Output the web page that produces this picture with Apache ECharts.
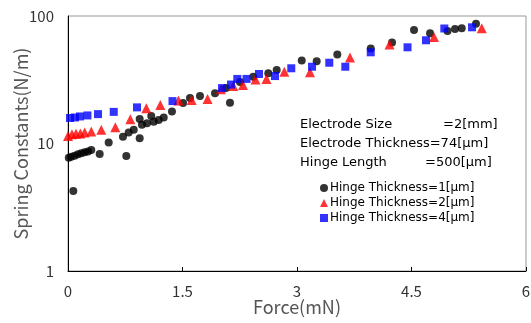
<!DOCTYPE html>
<html><head><meta charset="utf-8">
<script src="https://cdn.jsdelivr.net/npm/echarts@6/dist/echarts.min.js"></script>
<style>html,body{margin:0;padding:0;background:#fff}#c{width:531px;height:323px}</style>
</head><body><div id="c"></div>
<script>
var xTicks = ['0', '1.5', '3', '4.5', '6'];
var yTicks = ['1', '10', '100'];
var seriesNames = ['Hinge Thickness=1[μm]', 'Hinge Thickness=2[μm]', 'Hinge Thickness=4[μm]'];
var black1um = [
  [0.01,7.74],[0.043,7.88],[0.088,8.02],[0.131,8.23],[0.174,8.38],[0.219,8.53],[0.262,8.65],[0.305,8.89],
  [0.415,8.27],[0.533,10.2],[0.72,11.3],[0.764,7.98],[0.795,12.2],[0.861,12.8],[0.939,15.6],[0.939,11.0],
  [0.969,14.0],[1.035,14.4],[1.091,16.4],[1.123,14.8],[1.188,15.3],[1.254,16.0],[1.362,17.8],[0.07,4.24],
  [1.507,20.8],[1.598,22.7],[1.729,23.6],[1.926,24.8],[2.122,20.9],[2.07,27.2],[2.253,30.4],[2.428,33.4],
  [2.624,35.5],[2.734,37.7],[3.062,44.8],[3.258,44.1],[3.528,49.9],[3.966,55.6],[4.245,62.0],[4.533,77.6],
  [4.743,73.1],[4.972,76.3],[5.07,79.2],[5.158,80.0],[5.345,87.1]
];
var red2um = [
  [0.0,11.45],[0.052,11.8],[0.105,11.9],[0.161,12.0],[0.219,12.2],[0.305,12.4],[0.436,12.8],[0.62,13.4],
  [0.816,15.5],[1.026,18.9],[1.209,20.0],[1.448,21.7],[1.62,21.9],[1.828,22.3],[2.004,26.6],[2.166,28.2],
  [2.293,28.8],[2.456,31.8],[2.6,32.1],[2.834,36.6],[3.17,36.2],[3.694,47.3],[4.212,59.8],[4.795,68.4],[5.42,80.1]
];
var blue4um = [
  [0.026,15.85],[0.092,16.0],[0.157,16.3],[0.255,16.6],[0.393,17.0],[0.599,17.7],[0.904,19.2],[1.369,21.5],
  [2.018,27.2],[2.135,29.0],[2.218,32.1],[2.339,32.1],[2.502,35.1],[2.712,33.8],[2.925,38.9],[3.197,40.0],
  [3.423,43.0],[3.633,40.0],[3.966,51.9],[4.448,56.8],[4.69,64.5],[4.93,79.8],[5.293,81.5]
];
var infoLines = [['Electrode Size', '=2[mm]'], ['Electrode Thickness=74[μm]', ''], ['Hinge Length', '=500[μm]']];

var FONT = '"Noto Sans CJK JP", "Noto Sans", sans-serif';
var TFONT = '"DejaVu Sans", sans-serif';
var chart = echarts.init(document.getElementById('c'));
chart.setOption({
  animation: false,
  backgroundColor: '#fff',
  grid: {left: 68, top: 16, right: 5, bottom: 52, show: true, borderColor: '#999', borderWidth: 1,
    containLabel: false, outerBoundsMode: 'none'},
  xAxis: {
    type: 'value', min: 0, max: 6, interval: 1.5,
    axisLine: {show: true, lineStyle: {color: '#000', width: 1}},
    axisTick: {show: true, inside: true, length: 4, lineStyle: {color: '#000'}},
    splitLine: {show: false},
    axisLabel: {margin: 13, fontSize: 15, color: '#333', fontFamily: FONT,
      formatter: function (v) { return xTicks[Math.round(v / 1.5)]; }},
    name: 'Force(mN)', nameLocation: 'middle', nameGap: 27, nameMoveOverlap: false,
    nameTextStyle: {fontSize: 18, color: '#555', fontFamily: FONT}
  },
  yAxis: {
    type: 'log', min: 1, max: 100, logBase: 10,
    axisLine: {show: true, lineStyle: {color: '#000', width: 1}},
    axisTick: {show: false},
    splitLine: {show: false},
    axisLabel: {margin: 14, fontSize: 15, color: '#333', fontFamily: FONT,
      formatter: function (v) { return yTicks[Math.round(Math.log10(v))]; }},
    name: 'Spring Constants(N/m)', nameLocation: 'middle', nameGap: 38, nameMoveOverlap: false,
    nameTextStyle: {fontSize: 18, color: '#555', fontFamily: FONT}
  },
  legend: {
    orient: 'vertical', left: 315, top: 177, itemGap: 3, itemWidth: 8, itemHeight: 8,
    textStyle: {fontSize: 12, color: '#000', fontFamily: TFONT, padding: [0, 0, 0, -3]},
    data: [
      {name: seriesNames[0], icon: 'circle'},
      {name: seriesNames[1], icon: 'triangle'},
      {name: seriesNames[2], icon: 'rect'}
    ]
  },
  graphic: [
    {type: 'text', left: 300, top: 118, style: {text: infoLines[0][0], font: '13px ' + TFONT, fill: '#000'}},
    {type: 'text', left: 443, top: 118, style: {text: infoLines[0][1], font: '13px ' + TFONT, fill: '#000'}},
    {type: 'text', left: 300, top: 137, style: {text: infoLines[1][0], font: '13px ' + TFONT, fill: '#000'}},
    {type: 'text', left: 300, top: 156, style: {text: infoLines[2][0], font: '13px ' + TFONT, fill: '#000'}},
    {type: 'text', left: 425, top: 156, style: {text: infoLines[2][1], font: '13px ' + TFONT, fill: '#000'}}
  ],
  series: [
    {name: seriesNames[0], type: 'scatter', symbol: 'circle', symbolSize: 8, itemStyle: {color: '#000'}, data: black1um},
    {name: seriesNames[1], type: 'scatter', symbol: 'triangle', symbolSize: 10, itemStyle: {color: '#f00'}, data: red2um},
    {name: seriesNames[2], type: 'scatter', symbol: 'rect', symbolSize: 8, itemStyle: {color: '#00f'}, data: blue4um}
  ]
});
</script></body></html>
